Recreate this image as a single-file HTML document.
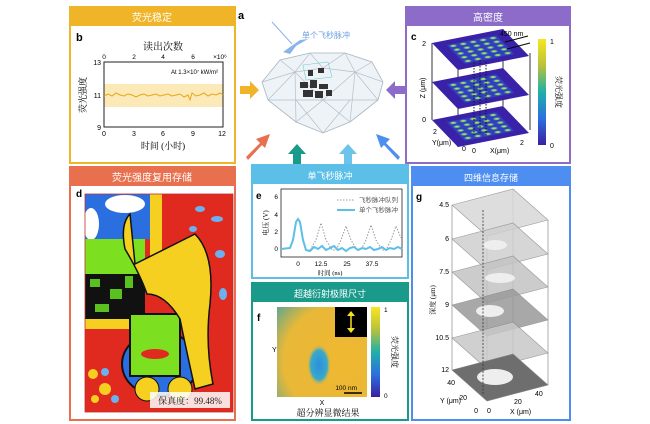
<!DOCTYPE html>
<html><head><meta charset="utf-8"><style>
html,body{margin:0;padding:0;background:#fff;width:650px;height:424px;overflow:hidden}
svg{display:block}
text{font-family:"Liberation Sans","Noto Sans CJK SC",sans-serif}
.cn{font-family:"Liberation Serif","Noto Serif CJK SC",serif}
</style></head><body>
<svg width="650" height="424" viewBox="0 0 650 424" xmlns="http://www.w3.org/2000/svg">
<defs>
<linearGradient id="vir" x1="0" y1="1" x2="0" y2="0">
<stop offset="0" stop-color="#3b1fa0"/><stop offset="0.25" stop-color="#2c6fe0"/><stop offset="0.5" stop-color="#1fb0a8"/><stop offset="0.75" stop-color="#b8c23a"/><stop offset="1" stop-color="#f8e620"/></linearGradient>
<radialGradient id="fbg" cx="0.7" cy="0.6" r="0.9"><stop offset="0" stop-color="#f0b830"/><stop offset="0.7" stop-color="#e8b838"/><stop offset="1" stop-color="#6aa88a"/></radialGradient>
<radialGradient id="blob"><stop offset="0" stop-color="#2a8ee0"/><stop offset="0.7" stop-color="#3aaac8"/><stop offset="1" stop-color="#e8b838" stop-opacity="0"/></radialGradient>
<radialGradient id="dot"><stop offset="0" stop-color="#f8e020"/><stop offset="0.5" stop-color="#60c890"/><stop offset="1" stop-color="#3848c0" stop-opacity="0"/></radialGradient>
<g id="plane">
<rect x="0" y="0" width="100" height="100" fill="#3a22a8"/>
<rect x="15" y="15" width="70" height="70" fill="#3050c8" opacity="0.6"/>
<g fill="url(#dot)">
<circle cx="22" cy="22" r="6"/><circle cx="36" cy="22" r="6"/><circle cx="50" cy="22" r="6"/><circle cx="64" cy="22" r="6"/><circle cx="78" cy="22" r="6"/>
<circle cx="22" cy="36" r="6"/><circle cx="36" cy="36" r="6"/><circle cx="50" cy="36" r="6"/><circle cx="64" cy="36" r="6"/><circle cx="78" cy="36" r="6"/>
<circle cx="22" cy="50" r="6"/><circle cx="36" cy="50" r="6"/><circle cx="50" cy="50" r="6"/><circle cx="64" cy="50" r="6"/><circle cx="78" cy="50" r="6"/>
<circle cx="22" cy="64" r="6"/><circle cx="36" cy="64" r="6"/><circle cx="50" cy="64" r="6"/><circle cx="64" cy="64" r="6"/><circle cx="78" cy="64" r="6"/>
<circle cx="22" cy="78" r="6"/><circle cx="36" cy="78" r="6"/><circle cx="50" cy="78" r="6"/><circle cx="64" cy="78" r="6"/><circle cx="78" cy="78" r="6"/>
</g>
</g>
</defs>

<!-- Panel b -->
<rect x="70" y="7" width="165" height="156" fill="#fff" stroke="#f0b429" stroke-width="2"/>
<rect x="70" y="7" width="165" height="19" fill="#f0b429"/>
<text x="152" y="21" font-size="10" fill="#fff" text-anchor="middle">荧光稳定</text>
<text x="76" y="41" font-size="11" font-weight="bold">b</text>
<text x="163" y="50" font-size="10" text-anchor="middle" class="cn">读出次数</text>
<g font-size="6.5" text-anchor="middle"><text x="104" y="59">0</text><text x="134" y="59">2</text><text x="163" y="59">4</text><text x="193" y="59">6</text><text x="220" y="59">×10⁶</text></g>
<rect x="104" y="84" width="119" height="23" fill="#fbe9b8"/>
<rect x="104" y="62" width="119" height="65" fill="none" stroke="#222" stroke-width="1"/>
<text x="218" y="74" font-size="6" text-anchor="end">At 1.3×10⁷ kW/m²</text>
<polyline fill="none" stroke="#e8a818" stroke-width="1" points="104,96 108,94 112,96 116,93 120,95 124,96 128,94 132,95 136,97 140,95 144,94 148,96 152,95 156,94 160,96 164,95 168,94 172,96 176,95 180,94 184,97 188,95 190,100 192,93 196,96 200,95 204,93 208,96 212,94 216,95 220,93 223,95"/>
<g font-size="7" text-anchor="end"><text x="101" y="65">13</text><text x="101" y="98">11</text><text x="101" y="130">9</text></g>
<g font-size="7" text-anchor="middle"><text x="104" y="136">0</text><text x="134" y="136">3</text><text x="163" y="136">6</text><text x="193" y="136">9</text><text x="222" y="136">12</text></g>
<text x="163" y="149" font-size="9" text-anchor="middle" class="cn">时间 (小时)</text>
<text x="86" y="95" font-size="9" text-anchor="middle" class="cn" transform="rotate(-90 86 95)">荧光强度</text>

<!-- Panel a -->
<text x="238" y="19" font-size="11" font-weight="bold">a</text>
<text x="302" y="38" font-size="8" fill="#6a9ee0">单个飞秒脉冲</text>
<line x1="272" y1="22" x2="292" y2="44" stroke="#8ab4ea" stroke-width="1"/>
<path d="M283,52 L300,40 L308,39 L296,46 L290,54 Z" fill="#8ab4ea"/>
<g fill="#eef3f8" stroke="#a9b4c0" stroke-width="0.8">
<polygon points="262,82 280,60 310,53 345,53 372,62 383,82 378,100 350,122 323,133 296,122 268,100"/>
</g>
<g stroke="#b5bec8" stroke-width="0.7" fill="none">
<polyline points="262,82 295,72 323,68 355,72 383,82"/>
<polyline points="280,60 295,72 310,53 323,68 345,53 355,72 372,62"/>
<polyline points="268,100 295,72 296,122 323,100 350,122 355,72 378,100"/>
<polyline points="262,82 268,100 296,100 323,100 350,100 378,100"/>
<polyline points="296,100 323,133 350,100"/><polyline points="295,72 323,100 355,72"/>
</g>
<polygon points="303,65 328,62 332,77 306,80" fill="none" stroke="#7cc" stroke-width="0.6"/>
<g fill="#333"><rect x="300" y="82" width="8" height="6"/><rect x="310" y="80" width="7" height="8"/><rect x="319" y="84" width="9" height="5"/><rect x="303" y="90" width="10" height="7"/><rect x="315" y="91" width="8" height="7"/><rect x="326" y="90" width="6" height="6"/><rect x="308" y="70" width="5" height="6"/><rect x="318" y="68" width="6" height="5"/></g>
<polygon points="240,86 250,86 250,81 259,90 250,99 250,94 240,94" fill="#f0b429"/>
<polygon points="405,86 395,86 395,81 386,90 395,99 395,94 405,94" fill="#8c6cc8"/>
<polygon points="246,157 260,143 256,139 270,134 265,148 262,145 248,160" fill="#e8704f"/>
<polygon points="293,165 293,154 288,154 297,144 306,154 301,154 301,165" fill="#1a9a8a"/>
<polygon points="344,165 344,154 339,154 348,144 357,154 352,154 352,165" fill="#6cc4ea"/>
<polygon points="400,157 386,143 390,139 376,134 381,148 384,145 398,160" fill="#4d8ef0"/>

<!-- Panel c -->
<rect x="406" y="7" width="164" height="156" fill="#fff" stroke="#8c6cc8" stroke-width="2"/>
<rect x="406" y="7" width="164" height="19" fill="#8c6cc8"/>
<text x="488" y="21" font-size="10" fill="#fff" text-anchor="middle">高密度</text>
<text x="411" y="40" font-size="10" font-weight="bold">c</text>
<g stroke="#333" stroke-width="1"><line x1="432" y1="43" x2="432" y2="120"/><line x1="530" y1="53" x2="530" y2="130"/><line x1="458" y1="70" x2="458" y2="147"/><line x1="503" y1="29" x2="503" y2="106"/></g>
<use href="#plane" transform="matrix(0.71,-0.14,0.26,0.27,432,120)"/>
<use href="#plane" transform="matrix(0.71,-0.14,0.26,0.27,432,82)"/>
<use href="#plane" transform="matrix(0.71,-0.14,0.26,0.27,432,43)"/>
<g stroke="#111" stroke-width="1" stroke-dasharray="1.5,1.5"><line x1="474" y1="62" x2="474" y2="135"/><line x1="480" y1="60" x2="480" y2="133"/><line x1="486" y1="62" x2="486" y2="135"/></g>
<g font-size="7"><text x="500" y="36">450 nm</text><text x="426" y="46" text-anchor="end">2</text><text x="426" y="122" text-anchor="end">0</text><text x="433" y="134">2</text><text x="462" y="151">0</text><text x="472" y="153">0</text><text x="520" y="145">2</text><text x="432" y="145">Y(μm)</text><text x="490" y="153">X(μm)</text></g>
<text x="425" y="88" font-size="7" transform="rotate(-90 425 88)" text-anchor="middle">Z (μm)</text>
<line x1="505" y1="42" x2="528" y2="36" stroke="#000"/><line x1="507" y1="49" x2="530" y2="43" stroke="#000"/>
<rect x="538" y="39" width="8" height="106" fill="url(#vir)"/>
<text x="550" y="44" font-size="7">1</text><text x="550" y="148" font-size="7">0</text>
<text x="556" y="92" font-size="8" class="cn" transform="rotate(90 556 92)" text-anchor="middle">荧光强度</text>

<!-- Panel d -->
<rect x="70" y="167" width="165" height="253" fill="#fff" stroke="#e8704f" stroke-width="2"/>
<rect x="70" y="167" width="165" height="19" fill="#e8704f"/>
<text x="152" y="181" font-size="10" fill="#fff" text-anchor="middle">荧光强度复用存储</text>
<text x="76" y="197" font-size="10" font-weight="bold">d</text>
<svg x="85" y="194" width="148" height="218" viewBox="0 0 148 218">
<rect width="148" height="218" fill="#e02a20"/>
<rect x="0" y="0" width="65" height="45" fill="#2a6ee0"/>
<ellipse cx="40" cy="10" rx="20" ry="9" fill="#fff"/><ellipse cx="6" cy="30" rx="8" ry="16" fill="#fff"/>
<rect x="65" y="0" width="12" height="70" fill="#f5d020"/>
<rect x="0" y="45" width="60" height="35" fill="#7ce020"/>
<rect x="0" y="80" width="60" height="45" fill="#111"/>
<g fill="#5ac020"><rect x="5" y="85" width="10" height="8"/><rect x="25" y="95" width="12" height="10"/><rect x="40" y="82" width="8" height="12"/><rect x="10" y="110" width="14" height="8"/></g>
<rect x="0" y="125" width="60" height="10" fill="#f5d020"/>
<ellipse cx="75" cy="170" rx="38" ry="32" fill="#2a6ee0" stroke="#111" stroke-width="2"/>
<rect x="45" y="120" width="50" height="62" fill="#7ce020" stroke="#111" stroke-width="2"/>
<ellipse cx="70" cy="160" rx="14" ry="5" fill="#e02a20"/>
<path d="M40,55 Q35,30 45,20 L50,70 Q80,55 110,40 Q130,60 125,110 Q120,150 128,190 L110,195 Q100,150 95,125 Q80,100 62,100 Q55,80 40,55 Z" fill="#f5d020" stroke="#111" stroke-width="1.5"/>
<circle cx="62" cy="195" r="12" fill="#f5d020" stroke="#111"/><circle cx="95" cy="195" r="12" fill="#f5d020" stroke="#111"/>
<g fill="#6cb0f0"><ellipse cx="115" cy="15" rx="5" ry="3"/><ellipse cx="132" cy="25" rx="6" ry="3"/><ellipse cx="108" cy="35" rx="4" ry="3"/><ellipse cx="135" cy="60" rx="5" ry="4"/><ellipse cx="138" cy="100" rx="4" ry="6"/></g>
<g fill="#f5d020"><circle cx="8" cy="180" r="5"/><circle cx="20" cy="195" r="6"/><circle cx="10" cy="205" r="4"/></g>
<g fill="#6cb0f0"><circle cx="20" cy="178" r="4"/><circle cx="30" cy="205" r="4"/></g>
<rect x="65" y="198" width="80" height="16" fill="#fff" opacity="0.85"/>
<text x="105" y="210" font-size="9" text-anchor="middle" class="cn" fill="#222">保真度：99.48%</text>
</svg>
<rect x="85" y="194" width="148" height="218" fill="none" stroke="#c03030" stroke-width="0.8"/>

<!-- Panel e -->
<rect x="252" y="165" width="156" height="113" fill="#fff" stroke="#5bbfe8" stroke-width="2"/>
<rect x="252" y="165" width="156" height="19" fill="#5bbfe8"/>
<text x="330" y="179" font-size="9" fill="#fff" text-anchor="middle">单飞秒脉冲</text>
<text x="256" y="199" font-size="10" font-weight="bold">e</text>
<rect x="281" y="189" width="121" height="68" fill="none" stroke="#222" stroke-width="0.8"/>
<g font-size="6.5" text-anchor="end"><text x="278" y="199">6</text><text x="278" y="217">4</text><text x="278" y="234">2</text><text x="278" y="251">0</text></g>
<g font-size="6.5" text-anchor="middle"><text x="298" y="266">0</text><text x="321" y="266">12.5</text><text x="347" y="266">25</text><text x="372" y="266">37.5</text></g>
<text x="330" y="275" font-size="6.5" text-anchor="middle" class="cn">时间 (ns)</text>
<text x="268" y="223" font-size="7" class="cn" transform="rotate(-90 268 223)" text-anchor="middle">电压 (V)</text>
<polyline fill="none" stroke="#999" stroke-width="1" stroke-dasharray="1.5,1.5" points="310,250 316,240 321,223 326,240 332,250 336,250 341,240 346,226 351,240 357,250 361,250 366,240 371,225 376,240 382,250 386,250 391,240 396,226 401,238"/>
<polyline fill="none" stroke="#5bbfe8" stroke-width="2" points="281,249 290,248 293,240 296,222 298,219 300,222 303,240 306,250 310,251 314,247 318,249 322,246 326,250 330,248 334,246 338,250 342,248 346,251 350,248 354,247 358,250 362,248 366,249 370,247 374,250 378,249 382,247 386,250 390,248 394,249 398,247 402,249"/>
<line x1="337" y1="200" x2="355" y2="200" stroke="#999" stroke-dasharray="1.5,1.5"/>
<line x1="337" y1="210" x2="355" y2="210" stroke="#5bbfe8" stroke-width="2"/>
<g font-size="6.5" class="cn" fill="#555"><text x="359" y="202">飞秒脉冲队列</text><text x="359" y="212">单个飞秒脉冲</text></g>

<!-- Panel f -->
<rect x="252" y="283" width="156" height="137" fill="#fff" stroke="#1a9a8a" stroke-width="2"/>
<rect x="252" y="283" width="156" height="19" fill="#1a9a8a"/>
<text x="330" y="297" font-size="9" fill="#fff" text-anchor="middle">超越衍射极限尺寸</text>
<text x="257" y="321" font-size="10" font-weight="bold">f</text>
<rect x="277" y="307" width="90" height="90" fill="url(#fbg)"/>
<ellipse cx="319" cy="365" rx="12" ry="21" fill="url(#blob)"/>
<rect x="335" y="307" width="32" height="30" fill="#000"/>
<line x1="351" y1="312" x2="351" y2="332" stroke="#f5e020" stroke-width="1.5"/>
<polygon points="347,316 351,311 355,316" fill="#f5e020"/><polygon points="347,328 351,333 355,328" fill="#f5e020"/>
<text x="357" y="390" font-size="6.5" text-anchor="end">100 nm</text>
<line x1="344" y1="393" x2="362" y2="393" stroke="#000" stroke-width="1.5"/>
<text x="272" y="352" font-size="7">Y</text><text x="322" y="405" font-size="7" text-anchor="middle">X</text>
<text x="328" y="416" font-size="9" class="cn" text-anchor="middle">超分辨显微结果</text>
<rect x="371" y="307" width="9" height="90" fill="url(#vir)"/>
<text x="384" y="312" font-size="6.5">1</text><text x="384" y="398" font-size="6.5">0</text>
<text x="392" y="352" font-size="8" class="cn" transform="rotate(90 392 352)" text-anchor="middle">荧光强度</text>

<!-- Panel g -->
<rect x="412" y="167" width="158" height="253" fill="#fff" stroke="#4d8ef0" stroke-width="2"/>
<rect x="412" y="167" width="158" height="19" fill="#4d8ef0"/>
<text x="491" y="181" font-size="9" fill="#fff" text-anchor="middle">四维信息存储</text>
<text x="416" y="200" font-size="10" font-weight="bold">g</text>
<g stroke="#777" stroke-width="0.6" fill="none"><line x1="452" y1="205" x2="452" y2="370"/><line x1="513" y1="189" x2="513" y2="354"/><line x1="548" y1="220" x2="548" y2="385"/><line x1="487" y1="236" x2="487" y2="401"/></g>
<g stroke="#888" stroke-width="0.6">
<polygon points="452,205 513,189 548,220 487,236" fill="#d8d8d8" opacity="0.85"/>
<polygon points="452,239 513,223 548,254 487,270" fill="#cfcfcf" opacity="0.85"/>
<polygon points="452,272 513,256 548,287 487,303" fill="#c4c4c4" opacity="0.85"/>
<polygon points="452,305 513,289 548,320 487,336" fill="#9a9a9a" opacity="0.85"/>
<polygon points="452,338 513,322 548,353 487,369" fill="#c8c8c8" opacity="0.85"/>
<polygon points="452,370 513,354 548,385 487,401" fill="#6e6e6e"/>
</g>
<g fill="#eee"><ellipse cx="495" cy="377" rx="18" ry="8"/><ellipse cx="490" cy="311" rx="14" ry="6"/><ellipse cx="500" cy="278" rx="15" ry="5"/><ellipse cx="495" cy="245" rx="12" ry="5"/></g>
<line x1="483" y1="210" x2="483" y2="395" stroke="#333" stroke-dasharray="2,1.5" stroke-width="0.8"/>
<g font-size="7" text-anchor="end"><text x="449" y="207">4.5</text><text x="449" y="241">6</text><text x="449" y="274">7.5</text><text x="449" y="307">9</text><text x="449" y="340">10.5</text><text x="449" y="372">12</text>
<text x="455" y="385">40</text><text x="467" y="400">20</text><text x="478" y="413">0</text></g>
<g font-size="7"><text x="487" y="413">0</text><text x="514" y="404">20</text><text x="535" y="396">40</text><text x="510" y="414">X (μm)</text><text x="440" y="403">Y (μm)</text></g>
<text x="435" y="300" font-size="7" transform="rotate(-90 435 300)" text-anchor="middle" class="cn">深度 (μm)</text>
</svg>
</body></html>
